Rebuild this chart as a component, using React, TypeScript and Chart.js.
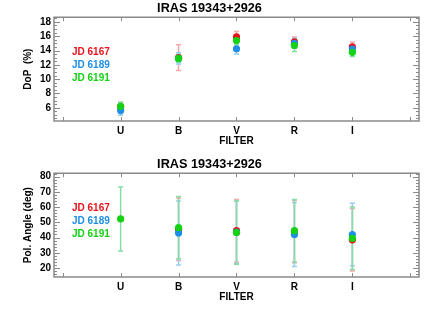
import React, { useEffect, useRef } from 'react';
import { Chart, registerables } from 'chart.js';

Chart.register(...registerables);

// ---- data ----
const filters = ['U', 'B', 'V', 'R', 'I'];
const filterPos = [1, 2, 3, 4, 5];
const jdLabels = ['JD 6167', 'JD 6189', 'JD 6191'];
const chartTitle = 'IRAS 19343+2926';

// Degree of polarization (%)
const dop6167 = [6.15, 13.0, 15.9, 15.2, 14.5];
const dop6167Err = [0.6, 1.8, 0.75, 0.7, 0.65];
const dop6189 = [5.6, 12.9, 14.25, 15.0, 14.2];
const dop6189Err = [0.65, 0.8, 0.75, 0.7, 0.6];
const dop6191 = [6.2, 12.9, 15.4, 14.7, 13.75];
const dop6191Err = [0.6, 0.55, 0.6, 0.85, 0.6];

// Polarization angle (deg)
const pa6167 = [null, 45.5, 44.5, 44.0, 38.5];
const pa6167Err = [0, 20.5, 20.5, 20.5, 20.5];
const pa6189 = [null, 43.0, 43.5, 42.0, 42.0];
const pa6189Err = [0, 21.0, 20.5, 21.0, 20.5];
const pa6191 = [52.2, 46.5, 43.3, 44.5, 39.5];
const pa6191Err = [21.0, 20.5, 20.8, 20.5, 20.5];

const jdColors = ['#e8141c', '#1e8ee6', '#14d214'];
const jdErrColors = ['#f6a8a8', '#96cdf2', '#86dca4'];

const FONT = "'Liberation Sans', Arial, Helvetica, sans-serif";

const idlPlugin = {
  id: 'idl',
  beforeDatasetsDraw(chart: any) {
    const { ctx } = chart;
    const xs = chart.scales.x;
    const ys = chart.scales.y;
    chart.data.datasets.forEach((ds: any) => {
      const errs = ds.errors;
      if (!errs) return;
      ctx.save();
      ctx.strokeStyle = ds.errColor;
      ctx.lineWidth = 1.5;
      ds.data.forEach((p: any, j: number) => {
        if (p.y == null) return;
        const x = xs.getPixelForValue(p.x);
        const y1 = ys.getPixelForValue(p.y - errs[j]);
        const y2 = ys.getPixelForValue(p.y + errs[j]);
        ctx.beginPath();
        ctx.moveTo(x, y1);
        ctx.lineTo(x, y2);
        ctx.moveTo(x - 2.5, y1);
        ctx.lineTo(x + 2.5, y1);
        ctx.moveTo(x - 2.5, y2);
        ctx.lineTo(x + 2.5, y2);
        ctx.stroke();
      });
      ctx.restore();
    });
  },
  afterDraw(chart: any, _args: any, opts: any) {
    const { ctx, chartArea } = chart;
    const { left, right, top, bottom } = chartArea;
    const xs = chart.scales.x;
    const ys = chart.scales.y;
    ctx.save();
    ctx.strokeStyle = '#8a8a8a';
    ctx.lineWidth = 1;
    ctx.beginPath();
    xs.ticks.forEach((t: any) => {
      const x = Math.round(xs.getPixelForValue(t.value)) + 0.5;
      ctx.moveTo(x, bottom);
      ctx.lineTo(x, bottom - 4);
      ctx.moveTo(x, top);
      ctx.lineTo(x, top + 4);
    });
    const minor = opts.minorStep;
    const start = Math.ceil(ys.min / minor) * minor;
    for (let v = start; v <= ys.max + 1e-9; v += minor) {
      const y = Math.round(ys.getPixelForValue(v)) + 0.5;
      const isMajor = Math.abs(v / opts.majorStep - Math.round(v / opts.majorStep)) < 1e-6;
      const len = isMajor ? 6 : 3;
      ctx.moveTo(left, y);
      ctx.lineTo(left + len, y);
      ctx.moveTo(right, y);
      ctx.lineTo(right - len, y);
    }
    ctx.stroke();
    ctx.lineWidth = 1.5;
    ctx.strokeRect(left, top, right - left, bottom - top);
    ctx.font = `bold 10px ${FONT}`;
    ctx.textBaseline = 'middle';
    ctx.textAlign = 'left';
    const ys0 = [52.5, 65, 78];
    jdLabels.forEach((lab, i) => {
      ctx.fillStyle = jdColors[i];
      ctx.fillText(lab, 72, ys0[i]);
    });
    ctx.restore();
  },
};

type PanelProps = {
  series: (number | null)[][];
  errors: number[][];
  yMin: number;
  yMax: number;
  yStep: number;
  yMinor: number;
  yTitle: string;
};

function Panel({ series, errors, yMin, yMax, yStep, yMinor, yTitle }: PanelProps) {
  const ref = useRef<HTMLCanvasElement | null>(null);
  useEffect(() => {
    if (!ref.current) return;
    const datasets = series.map((vals, i) => ({
      label: jdLabels[i],
      data: filterPos.map((x, j) => ({ x, y: vals[j] })),
      errors: errors[i],
      errColor: jdErrColors[i],
      backgroundColor: jdColors[i],
      borderColor: jdColors[i],
      borderWidth: 0,
      pointRadius: 3.6,
      showLine: false,
      order: series.length - i,
    }));
    const chart = new Chart(ref.current, {
      type: 'scatter',
      data: { datasets } as any,
      plugins: [idlPlugin as any],
      options: {
        animation: false,
        responsive: false,
        events: [],
        layout: { padding: { left: 0, right: 17, top: 0, bottom: 0 } },
        plugins: {
          legend: { display: false },
          tooltip: { enabled: false },
          title: {
            display: true,
            text: chartTitle,
            color: '#000',
            font: { family: FONT, size: 12.7, weight: 'bold' },
            padding: { top: 1, bottom: 1 },
          },
          idl: { minorStep: yMinor, majorStep: yStep },
        } as any,
        scales: {
          x: {
            type: 'linear',
            min: -0.15,
            max: 6.15,
            grid: { display: false, drawTicks: false },
            border: { display: false },
            afterFit: (s: any) => { s.height = 35; },
            ticks: {
              stepSize: 1,
              includeBounds: false,
              padding: 4,
              color: '#000',
              maxRotation: 0,
              autoSkip: false,
              font: { family: FONT, size: 10, weight: 'bold' },
              callback: (v: any) => filters[filterPos.indexOf(Number(v))] ?? '',
            },
            title: {
              display: true,
              text: 'FILTER',
              color: '#000',
              font: { family: FONT, size: 10, weight: 'bold' },
              padding: { top: 8.5, bottom: 8.5 },
            },
          },
          y: {
            type: 'linear',
            min: yMin,
            max: yMax,
            grid: { display: false, drawTicks: false },
            border: { display: false },
            afterFit: (s: any) => { s.width = 54; },
            ticks: {
              stepSize: yStep,
              includeBounds: false,
              padding: 3,
              color: '#000',
              font: { family: FONT, size: 10, weight: 'bold' },
            },
            title: {
              display: true,
              text: yTitle,
              color: '#000',
              font: { family: FONT, size: 10, weight: 'bold' },
              padding: { top: 22.5, bottom: 22.5 },
            },
          },
        },
      } as any,
    });
    return () => chart.destroy();
  }, []);
  return (
    <div style={{ width: 436, height: 156 }}>
      <canvas ref={ref} width={436} height={156} style={{ display: 'block' }} />
    </div>
  );
}

export default function App() {
  return (
    <div style={{ position: 'fixed', left: 0, top: 0, width: 436, height: 312, background: '#fff' }}>
      <Panel
        series={[dop6167, dop6189, dop6191]}
        errors={[dop6167Err, dop6189Err, dop6191Err]}
        yMin={4.15}
        yMax={18.65}
        yStep={2}
        yMinor={0.5}
        yTitle="DoP  (%)"
      />
      <Panel
        series={[pa6167, pa6189, pa6191]}
        errors={[pa6167Err, pa6189Err, pa6191Err]}
        yMin={14.1}
        yMax={82.2}
        yStep={10}
        yMinor={2}
        yTitle="Pol. Angle (deg)"
      />
    </div>
  );
}
